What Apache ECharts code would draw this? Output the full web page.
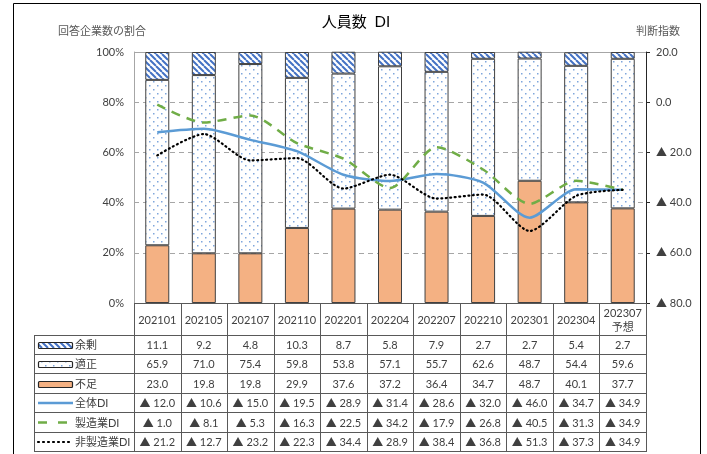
<!DOCTYPE html>
<html>
<head>
<meta charset="utf-8">
<script src="https://cdn.jsdelivr.net/npm/echarts@6/dist/echarts.min.js"></script>
<style>
  html, body { margin: 0; padding: 0; background: #fff; }
  #chart { width: 707px; height: 454px; }
</style>
</head>
<body>
<div id="chart"></div>
<script>
// Survey periods (columns of the table)
const categories = ['202101', '202105', '202107', '202110', '202201', '202204', '202207', '202210', '202301', '202304', '202307\n予想'];
// Share of responding firms (%)
const surplus  = [11.1, 9.2, 4.8, 10.3, 8.7, 5.8, 7.9, 2.7, 2.7, 5.4, 2.7];
const adequate = [65.9, 71.0, 75.4, 59.8, 53.8, 57.1, 55.7, 62.6, 48.7, 54.4, 59.6];
const shortage = [23.0, 19.8, 19.8, 29.9, 37.6, 37.2, 36.4, 34.7, 48.7, 40.1, 37.7];
// Diffusion indices (negative = ▲)
const diAll    = [-12.0, -10.6, -15.0, -19.5, -28.9, -31.4, -28.6, -32.0, -46.0, -34.7, -34.9];
const diMfg    = [-1.0, -8.1, -5.3, -16.3, -22.5, -34.2, -17.9, -26.8, -40.5, -31.3, -34.9];
const diNonMfg = [-21.2, -12.7, -23.2, -22.3, -34.4, -28.9, -38.4, -36.8, -51.3, -37.3, -34.9];
// Axis ranges
const shareTicks = [0, 20, 40, 60, 80, 100];
const diTicks = [-80, -60, -40, -20, 0, 20];

const FONT = 'Lato, "Noto Sans CJK JP", sans-serif';
const TXT = '#404040';

function fmtDI(v) {
  return v < 0 ? '▲ ' + Math.abs(v).toFixed(1) : v.toFixed(1);
}

function hatchPattern() {
  const s = 6;
  const c = document.createElement('canvas');
  c.width = s; c.height = s;
  const g = c.getContext('2d');
  g.fillStyle = '#ffffff'; g.fillRect(0, 0, s, s);
  g.strokeStyle = '#4472C4'; g.lineWidth = 2;
  g.beginPath();
  for (const o of [-s, 0, s]) { g.moveTo(o, 0); g.lineTo(o + s, s); }
  g.stroke();
  return c;
}
function dotPattern() {
  const s = 8;
  const c = document.createElement('canvas');
  c.width = s; c.height = s;
  const g = c.getContext('2d');
  g.fillStyle = '#ffffff'; g.fillRect(0, 0, s, s);
  g.fillStyle = '#7FA6DC';
  g.fillRect(1, 1, 1.5, 1.5);
  g.fillRect(5, 5, 1.5, 1.5);
  return c;
}
const hatchFill = { image: hatchPattern(), repeat: 'repeat' };
const dotFill = { image: dotPattern(), repeat: 'repeat' };

// Plot area
const G = { left: 134, top: 52, width: 512, height: 251 };
const colW = G.width / categories.length;
const tableLeft = 34;
const tableRight = G.left + G.width;
const headTop = G.top + G.height;        // 303
const rowYs = [335, 354, 373, 393, 412, 432, 451];

const chart = echarts.init(document.getElementById('chart'));

const graphics = [];
// outer frame
graphics.push({ type: 'rect', shape: { x: 13.5, y: 3.5, width: 687, height: 470 },
  style: { fill: 'none', stroke: '#000', lineWidth: 1 }, silent: true, z: 0 });
// title and axis captions
graphics.push({ type: 'text', style: { text: '人員数  DI', x: 356, y: 22, textAlign: 'center', textVerticalAlign: 'middle',
  font: '15px ' + FONT, fill: '#000' } });
graphics.push({ type: 'text', style: { text: '回答企業数の割合', x: 58, y: 31, textAlign: 'left', textVerticalAlign: 'middle',
  font: '11px ' + FONT, fill: '#595959' } });
graphics.push({ type: 'text', style: { text: '判断指数', x: 636, y: 31, textAlign: 'left', textVerticalAlign: 'middle',
  font: '11px ' + FONT, fill: '#595959' } });
// solid top border of the plot
graphics.push({ type: 'line', shape: { x1: G.left, y1: G.top + 0.5, x2: tableRight, y2: G.top + 0.5 },
  style: { stroke: '#A6A6A6', lineWidth: 1 }, z: 1 });

// table lines
const LC = '#595959';
function hline(y, x1, x2) {
  graphics.push({ type: 'line', shape: { x1: x1, y1: y + 0.5, x2: x2, y2: y + 0.5 }, style: { stroke: LC, lineWidth: 1 }, z: 5 });
}
function vline(x, y1, y2) {
  graphics.push({ type: 'line', shape: { x1: Math.round(x) + 0.5, y1: y1, x2: Math.round(x) + 0.5, y2: y2 }, style: { stroke: LC, lineWidth: 1 }, z: 5 });
}
hline(headTop, G.left, tableRight);
rowYs.forEach(y => hline(y, tableLeft, tableRight));
vline(tableLeft, rowYs[0], rowYs[6] + 1);
for (let k = 0; k <= categories.length; k++) {
  vline(G.left + k * colW, headTop, rowYs[6] + 1);
}

function cellText(text, x, y) {
  graphics.push({ type: 'text', z: 6, style: { text: text, x: x, y: y, textAlign: 'center', textVerticalAlign: 'middle',
    font: '11px ' + FONT, fill: TXT, lineHeight: 14 } });
}
const rowsData = [surplus.map(v => v.toFixed(1)), adequate.map(v => v.toFixed(1)), shortage.map(v => v.toFixed(1)),
  diAll.map(fmtDI), diMfg.map(fmtDI), diNonMfg.map(fmtDI)];
categories.forEach((c, i) => {
  const cx = G.left + (i + 0.5) * colW;
  cellText(c, cx, (headTop + rowYs[0]) / 2 + 1);
  rowsData.forEach((row, r) => cellText(row[i], cx, (rowYs[r] + rowYs[r + 1]) / 2 + 1));
});

// legend column
const legendNames = ['余剰', '適正', '不足', '全体DI', '製造業DI', '非製造業DI'];
legendNames.forEach((name, r) => {
  const cy = (rowYs[r] + rowYs[r + 1]) / 2 + 0.5;
  graphics.push({ type: 'text', z: 6, style: { text: name, x: 75, y: cy + 0.5, textAlign: 'left', textVerticalAlign: 'middle',
    font: '11px ' + FONT, fill: TXT } });
});
const iconFills = [hatchFill, dotFill, '#F4B183'];
iconFills.forEach((f, r) => {
  const cy = (rowYs[r] + rowYs[r + 1]) / 2 + 0.5;
  graphics.push({ type: 'rect', z: 6, shape: { x: 38.5, y: Math.round(cy - 3) + 0.5, width: 34, height: 6, r: 1 },
    style: { fill: f, stroke: '#262626', lineWidth: 1.2 } });
});
const lineIcons = [
  { color: '#5B9BD5', dash: null, width: 2.5, cap: 'butt' },
  { color: '#70AD47', dash: [9, 11], width: 2.5, cap: 'butt' },
  { color: '#000000', dash: [1, 4], width: 2.2, cap: 'round' }
];
lineIcons.forEach((li, k) => {
  const r = 3 + k;
  const cy = (rowYs[r] + rowYs[r + 1]) / 2 + 0.5;
  graphics.push({ type: 'line', z: 6, shape: { x1: 38, y1: cy, x2: 73, y2: cy },
    style: { stroke: li.color, lineWidth: li.width, lineDash: li.dash, lineCap: li.cap } });
});

const barBorder = { borderColor: '#404040', borderWidth: 1 };

chart.setOption({
  animation: false,
  backgroundColor: '#ffffff',
  textStyle: { fontFamily: FONT },
  grid: { left: G.left, top: G.top, width: G.width, height: G.height, containLabel: false },
  xAxis: {
    type: 'category', data: categories, boundaryGap: true,
    axisLine: { show: false }, axisTick: { show: false }, axisLabel: { show: false }
  },
  yAxis: [
    {
      type: 'value', min: shareTicks[0], max: shareTicks[shareTicks.length - 1], interval: 20, position: 'left',
      axisLine: { show: true, lineStyle: { color: '#A6A6A6' } }, axisTick: { show: false },
      axisLabel: { formatter: '{value}%', color: TXT, fontSize: 11, margin: 10, fontFamily: FONT },
      splitLine: { show: true, lineStyle: { color: '#A6A6A6', type: [5, 4], width: 1 } }
    },
    {
      type: 'value', min: diTicks[0], max: diTicks[diTicks.length - 1], interval: 20, position: 'right',
      axisLine: { show: true, lineStyle: { color: '#262626' } },
      axisTick: { show: true, inside: false, length: 4, lineStyle: { color: '#262626' } },
      axisLabel: { formatter: v => fmtDI(v), color: TXT, fontSize: 11, margin: 10, fontFamily: FONT },
      splitLine: { show: false }
    }
  ],
  series: [
    { name: '不足', type: 'bar', stack: 'share', data: shortage, barWidth: 24,
      itemStyle: Object.assign({ color: '#F4B183' }, barBorder), z: 2 },
    { name: '適正', type: 'bar', stack: 'share', data: adequate, barWidth: 24,
      itemStyle: Object.assign({ color: dotFill }, barBorder), z: 2 },
    { name: '余剰', type: 'bar', stack: 'share', data: surplus, barWidth: 24,
      itemStyle: Object.assign({ color: hatchFill }, barBorder), z: 2 },
    { name: '全体DI', type: 'line', yAxisIndex: 1, data: diAll, smooth: 0.25, symbol: 'none', z: 4,
      lineStyle: { color: '#5B9BD5', width: 2.5 } },
    { name: '製造業DI', type: 'line', yAxisIndex: 1, data: diMfg, smooth: 0.25, symbol: 'none', z: 4,
      lineStyle: { color: '#70AD47', width: 2.5, type: [9, 7] } },
    { name: '非製造業DI', type: 'line', yAxisIndex: 1, data: diNonMfg, smooth: 0.25, symbol: 'none', z: 4,
      lineStyle: { color: '#000000', width: 2.2, type: [1, 3.5], cap: 'round' } }
  ],
  graphic: graphics
});
</script>
</body>
</html>
